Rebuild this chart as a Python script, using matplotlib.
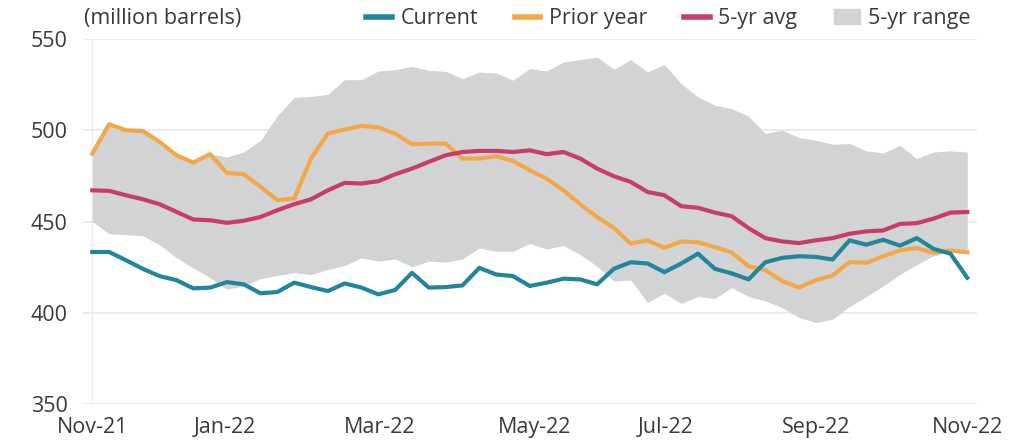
import numpy as np
import matplotlib
matplotlib.use("Agg")
from matplotlib import pyplot as plt
from matplotlib.patches import Patch
from matplotlib.lines import Line2D

# weekly inventories, Nov-21 .. Nov-22 (million barrels)
current = [433.3, 433.3, 428.8, 424.1, 420.1, 417.9, 413.4, 413.8, 416.8, 415.6,
           410.7, 411.4, 416.5, 414.1, 411.9, 416.1, 413.8, 410.1, 412.5, 421.9,
           413.8, 414.1, 415.0, 424.6, 421.0, 420.1, 414.7, 416.5, 418.7, 418.3,
           415.6, 424.1, 427.7, 427.0, 422.3, 427.0, 432.4, 424.1, 421.6, 418.3,
           427.7, 430.1, 431.0, 430.6, 429.2, 439.7, 437.3, 440.0, 436.8, 440.9,
           435.0, 432.4, 419.2]
prior_year = [487.2, 503.3, 500.0, 499.6, 493.6, 486.3, 482.3, 486.9, 476.6, 475.9,
              469.0, 461.7, 462.6, 484.5, 498.2, 500.4, 502.4, 501.5, 498.2, 492.3,
              492.7, 492.7, 484.5, 484.5, 485.8, 483.2, 478.1, 473.5, 467.1, 459.5,
              452.5, 446.4, 437.9, 439.7, 435.5, 439.1, 438.6, 436.0, 433.1, 425.5,
              423.4, 417.4, 413.8, 417.9, 420.5, 427.7, 427.4, 431.0, 434.2, 435.5,
              432.8, 434.2, 433.1]
avg_5yr = [467.1, 466.8, 464.4, 462.2, 459.5, 455.3, 451.1, 450.7, 449.3, 450.4,
           452.5, 456.2, 459.5, 462.2, 467.1, 471.2, 470.8, 472.1, 475.9, 479.0,
           482.7, 486.3, 488.1, 488.7, 488.7, 488.1, 489.0, 486.9, 488.1, 484.5,
           479.0, 474.8, 471.7, 466.2, 464.4, 458.4, 457.5, 454.9, 452.9, 446.4,
           440.9, 439.1, 438.2, 439.7, 440.9, 443.3, 444.6, 445.1, 448.7, 449.1,
           451.6, 454.9, 455.2]
range_hi = [488.0, 503.3, 500.0, 499.6, 493.6, 486.3, 482.3, 486.9, 485.4, 488.1,
            494.5, 508.0, 518.0, 518.5, 519.7, 527.7, 527.7, 532.5, 533.2, 535.0,
            532.8, 532.3, 528.3, 531.9, 531.4, 527.4, 533.8, 532.5, 537.4, 538.7,
            540.1, 533.4, 538.7, 531.9, 536.1, 525.5, 518.2, 513.7, 511.9, 507.7,
            498.2, 500.0, 496.0, 494.5, 492.3, 492.7, 488.7, 487.6, 491.8, 484.5,
            488.1, 488.7, 488.1]
range_lo = [450.0, 443.3, 442.8, 442.2, 437.3, 430.1, 424.6, 419.2, 412.9, 414.7,
            418.7, 420.5, 421.9, 421.0, 423.7, 425.9, 430.1, 428.3, 429.5, 425.2,
            428.3, 427.7, 429.5, 435.5, 433.7, 433.7, 437.9, 435.0, 436.8, 431.9,
            425.5, 417.4, 418.0, 405.6, 410.7, 405.2, 408.9, 407.8, 413.8, 408.9,
            406.5, 402.9, 397.4, 394.7, 396.5, 403.4, 408.9, 414.7, 421.0, 426.4,
            431.3, 433.7, 434.6]
tick_pos = [0, 7.9, 17.1, 26.3, 34.1, 43, 52]
tick_labels = ["Nov-21", "Jan-22", "Mar-22", "May-22", "Jul-22", "Sep-22", "Nov-22"]

plt.rcParams['font.family'] = ['Open Sans', 'DejaVu Sans']
txt = "#3a3a3a"
c_cur, c_prior, c_avg, c_rng = "#23859c", "#f2a848", "#c73d69", "#d2d3d5"
fs = 15.5

fig = plt.figure(figsize=(10.29, 4.46), dpi=100)
ax = fig.add_axes([0.0807, 0.094, 0.8683, 0.8186])
ax.set_axisbelow(True)

x = np.arange(len(current))
ax.fill_between(x, range_lo, range_hi, color=c_rng, lw=0, zorder=1)
ax.plot(x, prior_year, color=c_prior, lw=3, zorder=3)
ax.plot(x, avg_5yr, color=c_avg, lw=3, zorder=3)
ax.plot(x, current, color=c_cur, lw=3, zorder=4)

ax.set_xlim(-0.55, 52.55)
ax.set_ylim(350, 550)
ax.set_yticks([350, 400, 450, 500, 550])
ax.set_xticks(tick_pos)
ax.set_xticklabels(tick_labels)
ax.grid(axis='y', color="#e8e8e8", lw=1.2, zorder=0)
ax.axvline(0, color="#ececec", lw=1, zorder=0)
for s in ax.spines.values():
    s.set_visible(False)
ax.tick_params(length=0, labelsize=fs, colors=txt)
ax.tick_params(axis='y', pad=11)
ax.tick_params(axis='x', pad=9)

fig.text(0.0816, 0.958, "(million barrels)", fontsize=fs, color=txt, va='center')

handles = [Line2D([], [], color=c_cur, lw=4),
           Line2D([], [], color=c_prior, lw=4),
           Line2D([], [], color=c_avg, lw=4),
           Patch(color=c_rng)]
leg = fig.legend(handles, ["Current", "Prior year", "5-yr avg", "5-yr range"],
                 ncol=4, loc='center right', bbox_to_anchor=(0.952, 0.958),
                 frameon=False, fontsize=fs, handlelength=1.2,
                 handletextpad=0.4, columnspacing=1.7, borderaxespad=0)
for t in leg.get_texts():
    t.set_color(txt)

fig.savefig("out.png", dpi=100)
